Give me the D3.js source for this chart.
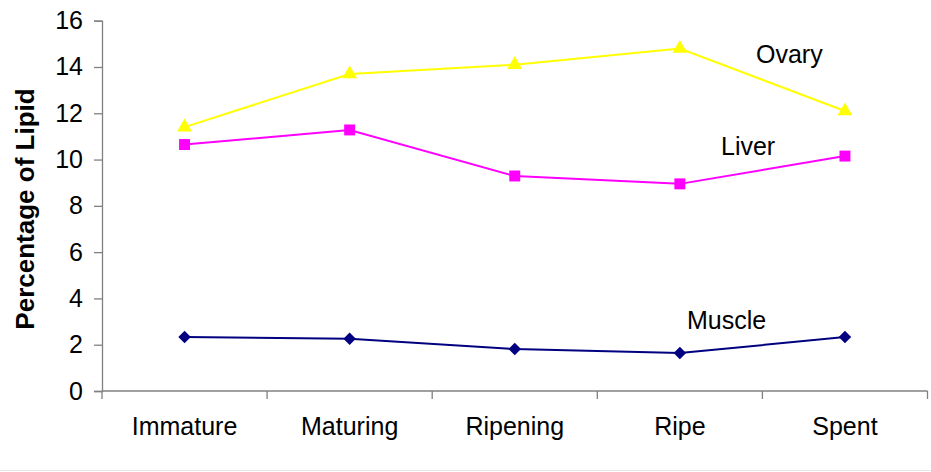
<!DOCTYPE html>
<html>
<head>
<meta charset="utf-8">
<script src="https://cdn.jsdelivr.net/npm/d3@7"></script>
<style>
  html, body { margin: 0; padding: 0; background: #fff; }
  svg { display: block; font-family: "Liberation Sans", Arial, sans-serif; }
</style>
</head>
<body>
<svg id="chart" width="931" height="472"></svg>
<script>
// Maturity stages along the x axis
const stages = ["Immature", "Maturing", "Ripening", "Ripe", "Spent"];
// Lipid content (%) per tissue
const ovary  = [11.4, 13.7, 14.1, 14.8, 12.1];
const liver  = [10.65, 11.28, 9.29, 8.95, 10.15];
const muscle = [2.33, 2.26, 1.81, 1.64, 2.33];
const yTicks = [0, 2, 4, 6, 8, 10, 12, 14, 16];

const svg = d3.select("#chart");
const plotLeft = 102, plotRight = 927.5, plotTop = 20.7, plotBottom = 391;
const fontFamily = "Liberation Sans, Arial, sans-serif";

const x = d3.scaleBand().domain(stages).range([plotLeft, plotRight]).padding(0);
const y = d3.scaleLinear().domain([0, 16]).range([plotBottom, plotTop]);
const cx = d => x(d) + x.bandwidth() / 2;

const axisColor = "#808080";

// faint frame line at the very bottom
svg.append("line").attr("x1", 0).attr("x2", 931).attr("y1", 470.5).attr("y2", 470.5)
  .attr("stroke", "#e6e6e6").attr("stroke-width", 1);

// Y axis
const yAxis = svg.append("g").attr("transform", `translate(${plotLeft},0)`)
  .call(d3.axisLeft(y).tickValues(yTicks).tickSize(8).tickPadding(11).tickFormat(d3.format("d")));
yAxis.select(".domain").attr("stroke", axisColor).attr("stroke-width", 1.3);
yAxis.selectAll(".tick line").attr("stroke", axisColor).attr("stroke-width", 1.3);
yAxis.selectAll(".tick text").attr("font-size", 25).attr("fill", "#000")
  .attr("font-family", fontFamily);

// X axis: labels centred in bands, tick marks at band edges
const xAxis = svg.append("g").attr("transform", `translate(0,${plotBottom})`)
  .call(d3.axisBottom(x).tickSize(0).tickPadding(26));
xAxis.select(".domain").remove();
xAxis.selectAll(".tick text").attr("font-size", 25).attr("fill", "#000")
  .attr("font-family", fontFamily);
svg.append("line").attr("x1", plotLeft).attr("x2", plotRight).attr("y1", plotBottom).attr("y2", plotBottom)
  .attr("stroke", axisColor).attr("stroke-width", 1.3);
const edges = stages.map(s => x(s)).concat([plotRight]);
svg.append("g").selectAll("line").data(edges).join("line")
  .attr("x1", d => d).attr("x2", d => d).attr("y1", plotBottom).attr("y2", plotBottom + 8)
  .attr("stroke", axisColor).attr("stroke-width", 1.3);

// Y axis title
svg.append("text")
  .attr("transform", `translate(34,${(89 + 329) / 2}) rotate(-90)`)
  .attr("text-anchor", "middle")
  .attr("font-size", 26).attr("font-weight", "bold").attr("fill", "#000")
  .text("Percentage of Lipid");

const line = d3.line().x((d, i) => cx(stages[i])).y(d => y(d));

const series = [
  { name: "Ovary",  values: ovary,  color: "#FFFF00", shape: d3.symbolTriangle, size: 95,  rot: 0,  lx: 756, ly: 63 },
  { name: "Liver",  values: liver,  color: "#FF00FF", shape: d3.symbolSquare,   size: 120, rot: 0,  lx: 721, ly: 155 },
  { name: "Muscle", values: muscle, color: "#000080", shape: d3.symbolSquare,   size: 78,  rot: 45, lx: 687, ly: 329 }
];

series.forEach(s => {
  svg.append("path").datum(s.values)
    .attr("fill", "none").attr("stroke", s.color).attr("stroke-width", 2)
    .attr("d", line);
  svg.append("g").selectAll("path").data(s.values).join("path")
    .attr("transform", (d, i) => `translate(${cx(stages[i])},${y(d)}) rotate(${s.rot})`)
    .attr("d", d3.symbol().type(s.shape).size(s.size))
    .attr("fill", s.color);
  svg.append("text").attr("x", s.lx).attr("y", s.ly)
    .attr("font-size", 25).attr("fill", "#000").text(s.name);
});
</script>
</body>
</html>
